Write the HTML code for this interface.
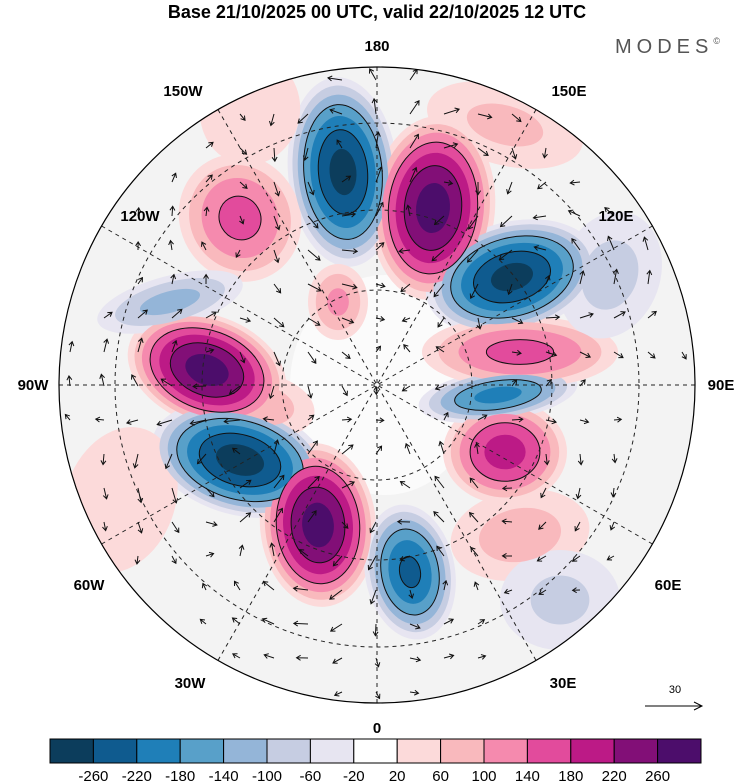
<!DOCTYPE html>
<html><head><meta charset="utf-8"><style>
body{margin:0;background:#fff;width:750px;height:783px;overflow:hidden;font-family:"Liberation Sans",sans-serif}
svg{display:block}
</style></head><body>
<svg width="750" height="783" viewBox="0 0 750 783">
<text x="377" y="18" text-anchor="middle" font-size="18" font-weight="bold">Base 21/10/2025 00 UTC, valid 22/10/2025 12 UTC</text>
<text x="670" y="53" text-anchor="middle" font-size="20" fill="#555" letter-spacing="5">MODES<tspan font-size="9" dy="-9">©</tspan></text>
<defs><clipPath id="cc"><circle cx="377" cy="385" r="318"/></clipPath></defs>
<circle cx="377" cy="385" r="318" fill="#f3f3f3"/>
<g clip-path="url(#cc)">
<ellipse cx="385" cy="385" rx="95" ry="110" fill="#fbfbfb"/>
<g id="fields"></g>
<g id="grid" stroke="#222" stroke-width="1" stroke-dasharray="4,4" fill="none"></g>
<g id="arrows" stroke="#111" stroke-width="1" fill="none"></g>
</g>
<circle cx="377" cy="385" r="318" fill="none" stroke="#000" stroke-width="1.2"/>
<g font-size="15" font-weight="bold" text-anchor="middle">
<text x="377" y="51">180</text><text x="377" y="733">0</text>
<text x="33" y="390">90W</text><text x="721" y="390">90E</text>
<text x="183" y="96">150W</text><text x="569" y="96">150E</text>
<text x="140" y="221">120W</text><text x="616" y="221">120E</text>
<text x="89" y="590">60W</text><text x="668" y="590">60E</text>
<text x="190" y="688">30W</text><text x="563" y="688">30E</text>
</g>
<text x="675" y="693" text-anchor="middle" font-size="11">30</text>
<line x1="645" y1="706" x2="701" y2="706" stroke="#000"/>
<path d="M694,702 L702,706 L694,710" fill="none" stroke="#000"/>
<g id="cbar"></g>
</svg>
<script>
const levels=[-260,-220,-180,-140,-100,-60,-20,20,60,100,140,180,220,260];
const colors=["#0c3d5c","#0f5b8f","#1f7fb8","#58a0c9","#94b5d8","#c6cde2","#e7e5f1","#ffffff","#fcdada","#f9b9bd","#f58aae","#e24b9c","#bc1a86","#820f77","#4c0d6b"];
// anomaly centres: x,y (px in map), rx, ry, rotation, peak value
const cx=[343,433,512,207,240,318,410,505,498,520,240,338,170,520,120,250,505,610,260,560];
const cy=[172,208,277,370,460,525,572,452,395,352,218,302,302,535,500,110,125,275,405,600];
const rxs=[55,62,88,82,90,58,45,62,80,98,60,30,75,70,55,50,80,50,55,60];
const rys=[95,92,55,55,55,82,68,52,26,36,65,38,26,45,75,55,40,65,32,50];
const rots=[-5,5,-15,20,15,-5,-10,0,-8,0,-30,0,-15,-10,20,10,15,20,10,0];
const peaks=[-270,275,-270,275,-275,275,-225,195,-190,150,150,105,-110,75,60,60,65,-70,80,-65];
const NS="http://www.w3.org/2000/svg";
const F=document.getElementById('fields');
function colorFor(v){let i=0;while(i<levels.length&&v>levels[i])i++;return colors[i];}
for(let pass=0;pass<7;pass++){
 for(let k=0;k<cx.length;k++){
  const p=Math.abs(peaks[k]);const lv=20+pass*40;
  if(lv>=p)continue;
  const f=(lv-20)/(p-10);
  const s=Math.pow(1-f,0.55);
  const e=document.createElementNS(NS,'ellipse');
  
  
  e.setAttribute('cx',cx[k]);e.setAttribute('cy',cy[k]);
  e.setAttribute('rx',rxs[k]*s);e.setAttribute('ry',rys[k]*s);
  e.setAttribute('transform','rotate('+rots[k]+' '+cx[k]+' '+cy[k]+')');
  e.setAttribute('fill',colorFor(Math.sign(peaks[k])*(lv+1)));
  F.appendChild(e);
  if(lv>=140&&lv%80===60){const c=e.cloneNode();c.setAttribute('fill','none');c.setAttribute('stroke','#111');c.setAttribute('stroke-width','1');F.appendChild(c);}
 }
}
const G=document.getElementById('grid');
[95,175,262].forEach(r=>{const c=document.createElementNS(NS,'circle');

c.setAttribute('cx',377);c.setAttribute('cy',385);c.setAttribute('r',r);G.appendChild(c);});
for(let a=0;a<180;a+=30){const t=a*Math.PI/180;const l=document.createElementNS(NS,'line');

l.setAttribute('x1',377+318*Math.sin(t));l.setAttribute('y1',385-318*Math.cos(t));
l.setAttribute('x2',377-318*Math.sin(t));l.setAttribute('y2',385+318*Math.cos(t));G.appendChild(l);}
const A=document.getElementById('arrows');
for(let y=80;y<700;y+=34)for(let x=70;x<690;x+=34){
 if((x-377)**2+(y-385)**2>310*310)continue;
 let u=0,v=0;
 for(let k=0;k<cx.length;k++){const dx=x-cx[k],dy=y-cy[k];const d2=(dx*dx)/(rxs[k]*rxs[k])+(dy*dy)/(rys[k]*rys[k]);
  const w=peaks[k]/260*Math.exp(-d2*0.6);u+=-dy*w/40;v+=dx*w/40;}
 const m=Math.hypot(u,v);if(m<0.15)continue;const L=Math.min(16,6+m*8);
 const ux=u/m,uy=v/m;const x2=x+ux*L,y2=y+uy*L;
 const p=document.createElementNS(NS,'path');
 
 p.setAttribute('d',`M${x},${y}L${x2},${y2}M${x2-ux*4-uy*2.5},${y2-uy*4+ux*2.5}L${x2},${y2}L${x2-ux*4+uy*2.5},${y2-uy*4-ux*2.5}`);
 A.appendChild(p);}
const C=document.getElementById('cbar');
const bx=50,bw=43.4;
colors.forEach((c,i)=>{const r=document.createElementNS(NS,'rect');

r.setAttribute('x',bx+i*bw);r.setAttribute('y',739);r.setAttribute('width',bw);r.setAttribute('height',24);
r.setAttribute('fill',c);r.setAttribute('stroke','#000');r.setAttribute('stroke-width','1');C.appendChild(r);});
levels.forEach((v,i)=>{const t=document.createElementNS(NS,'text');

t.setAttribute('x',bx+(i+1)*bw);t.setAttribute('y',781);t.setAttribute('text-anchor','middle');t.setAttribute('font-size','15');
t.textContent=v;C.appendChild(t);});
</script>
</body></html>
